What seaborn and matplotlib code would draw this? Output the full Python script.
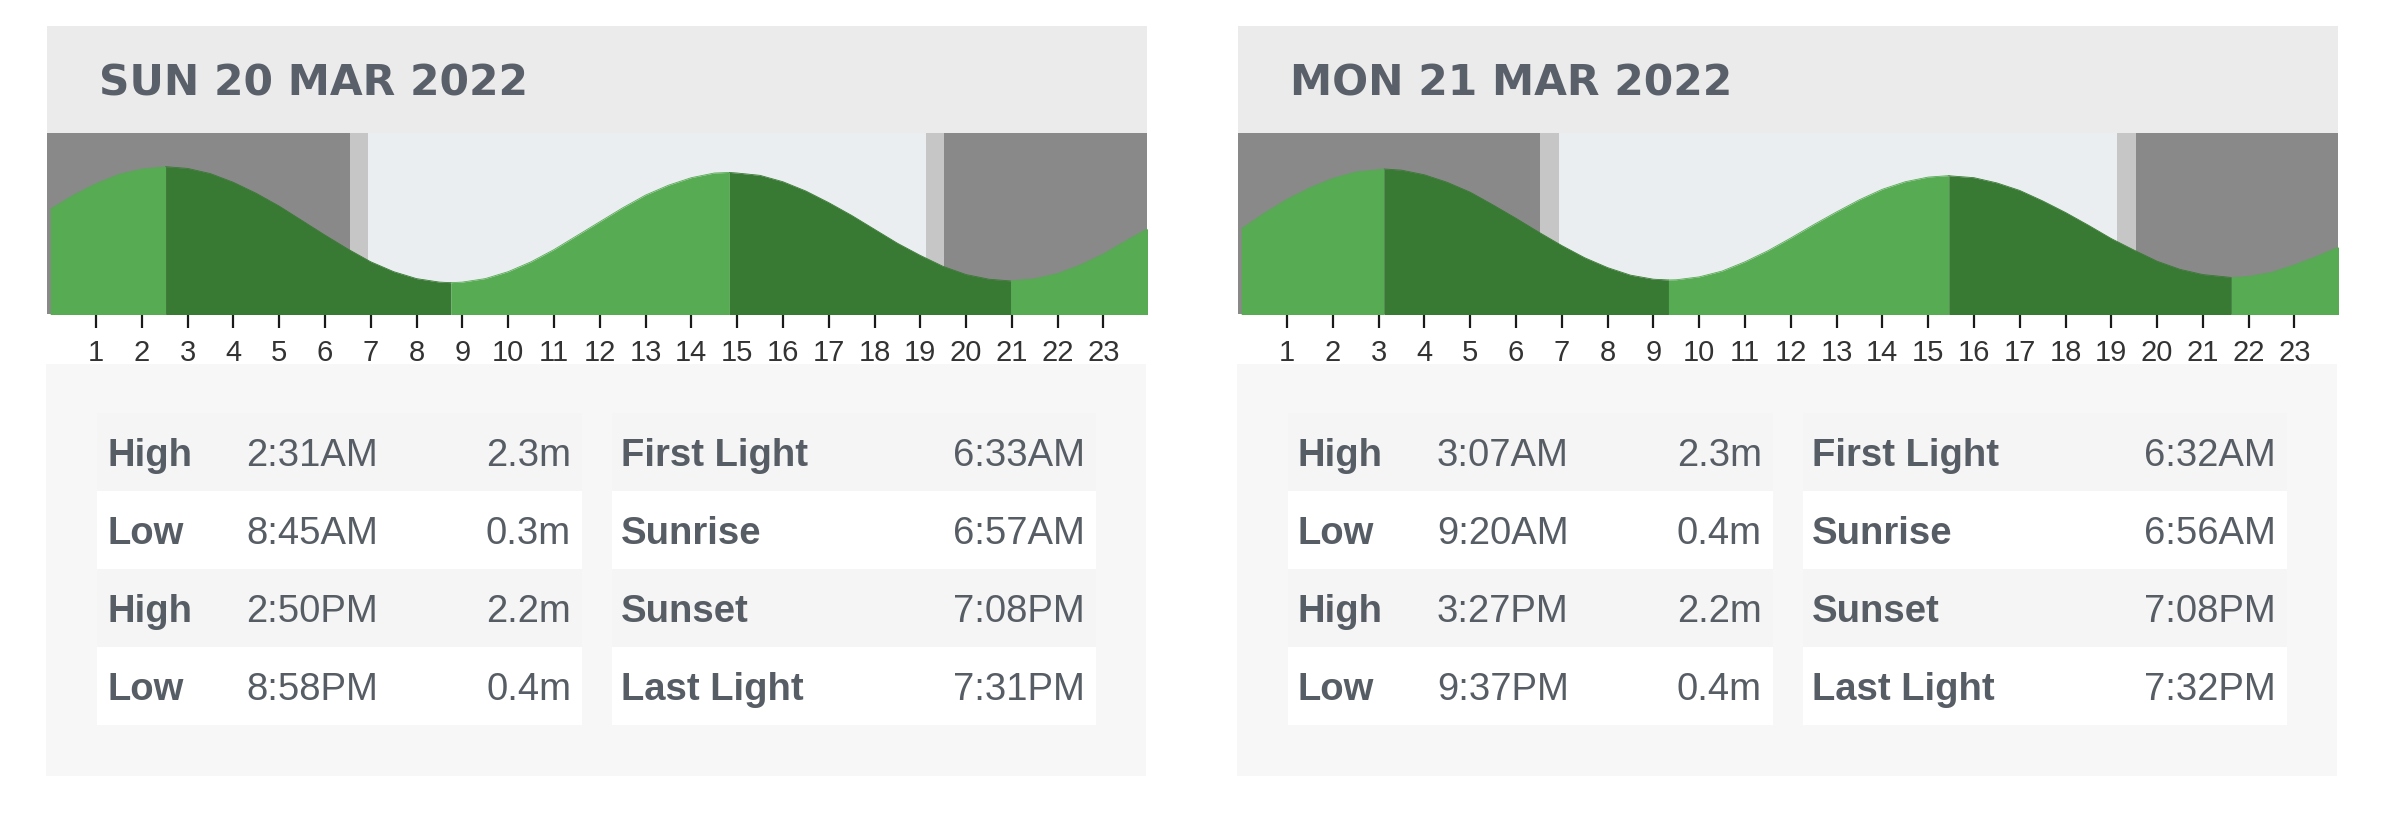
import numpy as np
import pandas as pd
import matplotlib
matplotlib.use("Agg")
import matplotlib.pyplot as plt
import seaborn as sns
from matplotlib.patches import Rectangle

# datos
dias = ["SUN 20 MAR 2022", "MON 21 MAR 2022"]

horas_dom = [0, 0.5, 1, 1.5, 2, 2.52, 3, 3.5, 4, 4.5, 5, 5.5, 6, 6.5, 7, 7.5, 8, 8.5,
             8.75, 9, 9.5, 10, 10.5, 11, 11.5, 12, 12.5, 13, 13.5, 14, 14.5, 14.83,
             15, 15.5, 16, 16.5, 17, 17.5, 18, 18.5, 19, 19.5, 20, 20.5, 20.97,
             21, 21.5, 22, 22.5, 23, 23.5, 24]
altura_dom = [1.57, 1.81, 2.01, 2.17, 2.26, 2.30, 2.27, 2.18, 2.03, 1.84, 1.62, 1.37,
              1.12, 0.88, 0.66, 0.49, 0.37, 0.31, 0.30, 0.31, 0.37, 0.49, 0.66, 0.87,
              1.11, 1.35, 1.59, 1.81, 1.98, 2.11, 2.19, 2.20, 2.19, 2.15, 2.04, 1.88,
              1.68, 1.46, 1.22, 0.98, 0.77, 0.58, 0.44, 0.36, 0.33, 0.335, 0.37, 0.46,
              0.61, 0.80, 1.03, 1.25]

horas_lun = [0, 0.5, 1, 1.5, 2, 2.5, 3, 3.12, 3.5, 4, 4.5, 5, 5.5, 6, 6.5, 7, 7.5, 8,
             8.5, 9, 9.33, 9.5, 10, 10.5, 11, 11.5, 12, 12.5, 13, 13.5, 14, 14.5, 15,
             15.45, 15.5, 16, 16.5, 17, 17.5, 18, 18.5, 19, 19.5, 20, 20.5, 21, 21.5,
             21.62, 22, 22.5, 23, 23.5, 24]
altura_lun = [1.23, 1.50, 1.74, 1.94, 2.10, 2.21, 2.25, 2.26, 2.24, 2.16, 2.03, 1.86,
              1.64, 1.41, 1.17, 0.94, 0.73, 0.56, 0.43, 0.36, 0.347, 0.350, 0.40, 0.50,
              0.66, 0.85, 1.07, 1.30, 1.52, 1.73, 1.91, 2.04, 2.12, 2.145, 2.14, 2.11,
              2.02, 1.89, 1.71, 1.51, 1.29, 1.06, 0.86, 0.67, 0.53, 0.44, 0.40, 0.39,
              0.41, 0.48, 0.61, 0.76, 0.93]

marea_tipo = ["High", "Low", "High", "Low"]
marea_hora_dom = ["2:31AM", "8:45AM", "2:50PM", "8:58PM"]
marea_alt_dom = ["2.3m", "0.3m", "2.2m", "0.4m"]
marea_hora_lun = ["3:07AM", "9:20AM", "3:27PM", "9:37PM"]
marea_alt_lun = ["2.3m", "0.4m", "2.2m", "0.4m"]

luz_tipo = ["First Light", "Sunrise", "Sunset", "Last Light"]
luz_hora_dom = ["6:33AM", "6:57AM", "7:08PM", "7:31PM"]
luz_hora_lun = ["6:32AM", "6:56AM", "7:08PM", "7:32PM"]

W, H = 2382, 816
colores = {"sube": "#56ab53", "baja": "#387a33"}
texto_col = "#575d64"


def aHoras(t):
    hm, ampm = t[:-2], t[-2:]
    h, m = [int(v) for v in hm.split(":")]
    if ampm == "PM" and h != 12:
        h += 12
    return h + m / 60


def tramos(horas, alturas):
    # separa la curva en tramos de subida y bajada
    filas = []
    d = np.sign(np.diff(alturas))
    tramo = 0
    for i in range(len(d)):
        if i > 0 and d[i] != d[i - 1]:
            tramo += 1
        fase = "sube" if d[i] > 0 else "baja"
        filas.append((tramo, fase, horas[i], alturas[i]))
        filas.append((tramo, fase, horas[i + 1], alturas[i + 1]))
    df = pd.DataFrame(filas, columns=["tramo", "fase", "hora", "altura"])
    return df.drop_duplicates()


def dibujarMarea(fig, x0, horas, alturas, luz):
    ax = fig.add_axes([x0 / W, (H - 314) / H, 1100 / W, 181 / H])
    fl, sr, ss, ll = [aHoras(t) for t in luz]
    ax.axvspan(-1, fl, color="#898989", lw=0)
    ax.axvspan(fl, sr, color="#c6c6c6", lw=0)
    ax.axvspan(sr, ss, color="#ebeef0", lw=0)
    ax.axvspan(ss, ll, color="#c6c6c6", lw=0)
    ax.axvspan(ll, 25, color="#898989", lw=0)

    df = tramos(horas, alturas)
    for (seg, fase), g in df.groupby(["tramo", "fase"]):
        ax.fill_between(g["hora"], g["altura"], -1, color=colores[fase], lw=0)
    sns.lineplot(data=df, x="hora", y="altura", hue="fase", units="tramo",
                 estimator=None, palette=colores, legend=False, lw=0.6, ax=ax)

    ax.set_xlim(-0.07, 23.95)
    ax.set_ylim(-0.24, 2.88)
    ax.set_xlabel("")
    ax.set_ylabel("")
    ax.set_yticks([])
    ax.set_xticks(range(1, 24))
    ax.tick_params(axis="x", bottom=True, direction="out", length=9.8, width=1.6,
                   color="#1a1a1a", pad=8, labelsize=21, labelcolor="#333333")
    for lab in ax.get_xticklabels():
        lab.set_family(["Liberation Sans Narrow", "Liberation Sans"])
    for s in ax.spines.values():
        s.set_visible(False)
    return ax


def dibujarTarjeta(bg, x0, dia, horas_m, alts_m, luz):
    bg.add_patch(Rectangle((x0, 26), 1100, 107, color="#ebebeb", lw=0))
    bg.text(x0 + 52, 95, dia, fontsize=30.5, fontweight="bold", family="DejaVu Sans",
            color="#5a6069", va="baseline")
    bg.add_patch(Rectangle((x0 - 1, 364), 1100, 412, color="#f7f7f7", lw=0))
    for i in range(4):
        y = 413 + 78 * i
        col = "#f5f5f5" if i % 2 == 0 else "white"
        bg.add_patch(Rectangle((x0 + 50, y), 485, 78, color=col, lw=0))
        bg.add_patch(Rectangle((x0 + 565, y), 484, 78, color=col, lw=0))
        yb = y + 53
        bg.text(x0 + 60, yb, marea_tipo[i], fontsize=27.5, fontweight="bold",
                color=texto_col, va="baseline")
        bg.text(x0 + 199, yb, horas_m[i], fontsize=27.5, color=texto_col, va="baseline")
        bg.text(x0 + 524, yb, alts_m[i], fontsize=27.5, color=texto_col, va="baseline",
                ha="right")
        bg.text(x0 + 574, yb, luz_tipo[i], fontsize=27.5, fontweight="bold",
                color=texto_col, va="baseline")
        bg.text(x0 + 1038, yb, luz[i], fontsize=27.5, color=texto_col, va="baseline",
                ha="right")


def main():
    sns.set_theme(style="white")
    plt.rcParams["font.family"] = ["Liberation Sans", "DejaVu Sans"]

    fig = plt.figure(figsize=(W / 100, H / 100), dpi=100, facecolor="white")
    bg = fig.add_axes([0, 0, 1, 1])
    bg.set_xlim(0, W)
    bg.set_ylim(H, 0)
    bg.axis("off")

    dibujarTarjeta(bg, 47, dias[0], marea_hora_dom, marea_alt_dom, luz_hora_dom)
    dibujarTarjeta(bg, 1238, dias[1], marea_hora_lun, marea_alt_lun, luz_hora_lun)

    dibujarMarea(fig, 47, horas_dom, altura_dom, luz_hora_dom)
    dibujarMarea(fig, 1238, horas_lun, altura_lun, luz_hora_lun)

    fig.savefig("out.png", dpi=100, facecolor="white")


if __name__ == "__main__":
    main()
